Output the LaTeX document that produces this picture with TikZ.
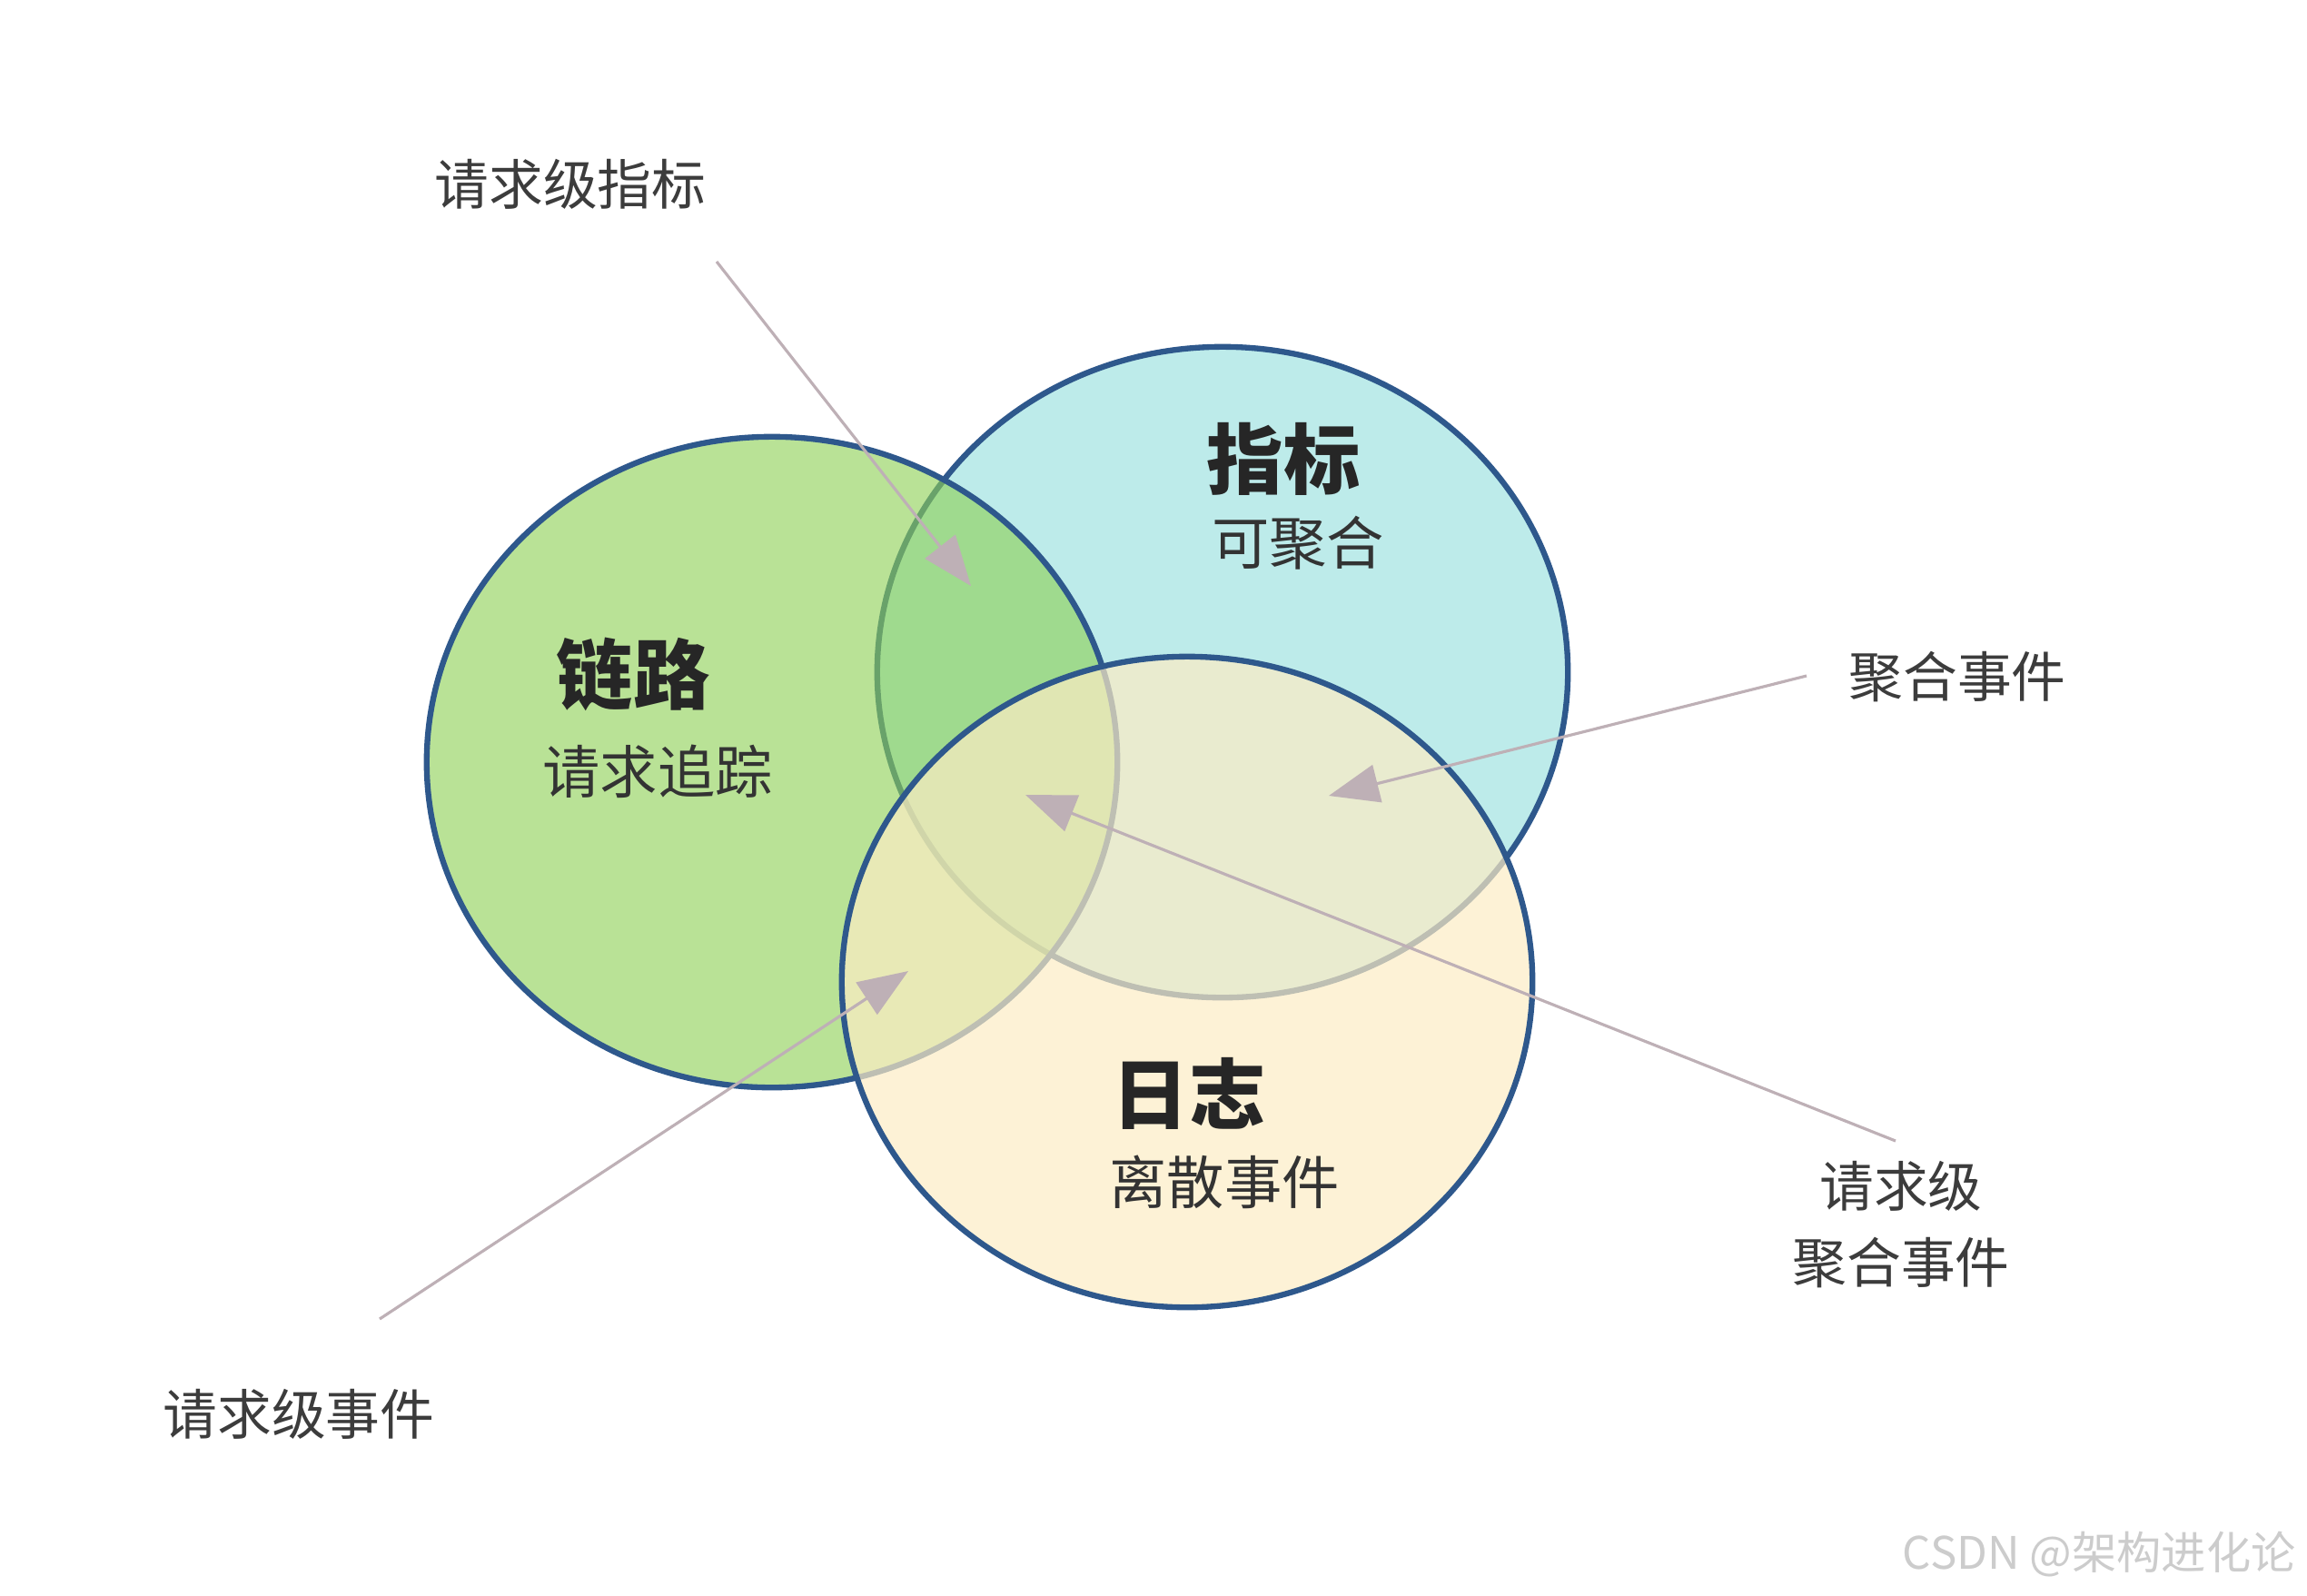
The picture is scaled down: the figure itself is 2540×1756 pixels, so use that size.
\documentclass[tikz,border=0pt]{standalone}
\usepackage{fontspec}
\setmainfont{Noto Sans CJK SC}
\usepackage{tikz}
\usetikzlibrary{arrows.meta,positioning,shapes.geometric}
\definecolor{setblue}{RGB}{46,88,140}
\definecolor{linkgreen}{RGB}{142,208,86}
\definecolor{metriccyan}{RGB}{189,235,234}
\definecolor{logyellow}{RGB}{252,236,196}
\definecolor{pointer}{RGB}{190,176,182}
\definecolor{labelgray}{RGB}{60,60,60}

\begin{document}
\begin{tikzpicture}[x=0.01cm,y=-0.01cm,
    setcircle/.style={ellipse,draw=setblue,line width=1.8pt,inner sep=0pt,
      minimum width=7.6cm,minimum height=7.16cm},
    title/.style={font=\bfseries\fontsize{24}{28}\selectfont,text=black!85},
    sub/.style={font=\fontsize{18}{21}\selectfont,text=black!80},
    callout/.style={font=\fontsize{17}{24}\selectfont,text=labelgray,align=center},
    pointto/.style={draw=pointer,line width=0.9pt,-{Triangle[length=5.5mm,width=4.2mm]}}]
  \useasboundingbox (0,0) rectangle (2540,1756);
  % the three sets
  \node[setcircle,fill=metriccyan] (metric) at (1346,740) {};
  \node[setcircle,fill=linkgreen,fill opacity=0.62] (link) at (850,839) {};
  \node[setcircle,fill=logyellow,fill opacity=0.7] (log) at (1307,1081) {};
  % titles
  \node[title] (linkT) at (697,742) {链路};
  \node[sub] (linkS) at (724,849) {请求追踪};
  \node[title] (metricT) at (1413,505) {指标};
  \node[sub] (metricS) at (1429,598) {可聚合};
  \node[title] (logT) at (1309,1204) {日志};
  \node[sub] (logS) at (1348,1301) {离散事件};
  % outer labels
  \node[callout] (reqmetric) at (628,203) {请求级指标};
  \node[callout] (aggevt) at (2155,745) {聚合事件};
  \node[callout] (reqagg) at (2093,1348) {请求级\\聚合事件};
  \node[callout] (reqevt) at (329,1557) {请求级事件};
  % pointers
  \coordinate (a1) at (789,288);  \coordinate (b1) at (1069,645);
  \coordinate (a2) at (1989,744); \coordinate (b2) at (1463,876);
  \coordinate (a3) at (2087,1256); \coordinate (b3) at (1129,875);
  \coordinate (a4) at (418,1452); \coordinate (b4) at (1000,1069);
  \foreach \i in {1,...,4}
    \draw[pointto] (a\i) -- (b\i);
  \node[anchor=east,font=\fontsize{14}{16}\selectfont,text=black!20] (mark) at (2540,1711) {CSDN @架构进化论};
\end{tikzpicture}
\end{document}
